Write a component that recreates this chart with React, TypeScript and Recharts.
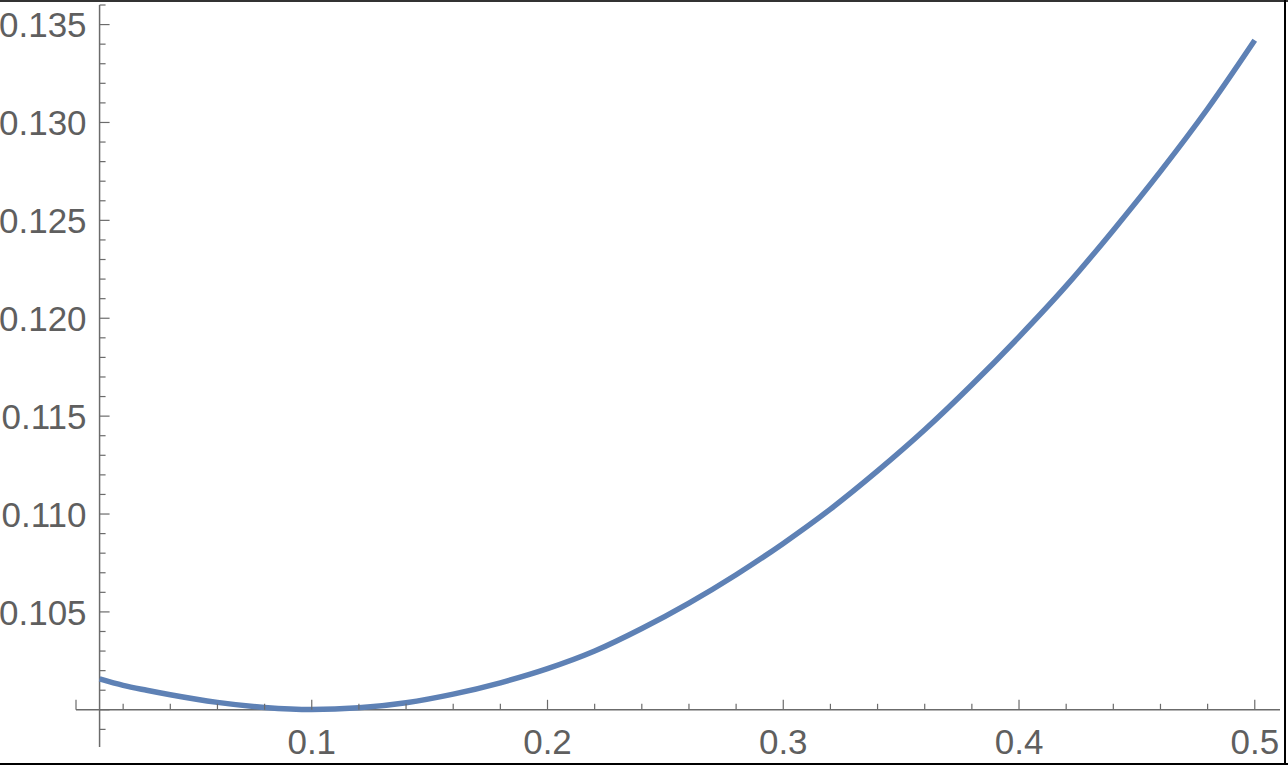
import React from "react";
import {
  LineChart,
  Line,
  XAxis,
  YAxis,
  ReferenceLine,
  ReferenceDot,
} from "recharts";

// values
const xValues = [
  0.01, 0.02, 0.03, 0.04, 0.06, 0.08, 0.1, 0.12, 0.14, 0.16, 0.18, 0.2, 0.22,
  0.24, 0.26, 0.28, 0.3, 0.32, 0.34, 0.36, 0.38, 0.4, 0.42, 0.44, 0.46, 0.48,
  0.5,
];
const yValues = [
  0.10158, 0.10125, 0.101, 0.10077, 0.10038, 0.10012, 0.10001, 0.1001,
  0.10036, 0.1008, 0.10138, 0.1021, 0.103, 0.10415, 0.10545, 0.1069, 0.1085,
  0.11025, 0.1122, 0.1143, 0.1166, 0.11905, 0.12165, 0.1245, 0.1275, 0.1307,
  0.1342,
];

// ticks
const xMajorTicks = [0, 0.1, 0.2, 0.3, 0.4, 0.5];
const xTickLabels = ["", "0.1", "0.2", "0.3", "0.4", "0.5"];
const xMinorTicks = [
  0.02, 0.04, 0.06, 0.08, 0.12, 0.14, 0.16, 0.18, 0.22, 0.24, 0.26, 0.28,
  0.32, 0.34, 0.36, 0.38, 0.42, 0.44, 0.46, 0.48,
];
const yMajorTicks = [0.1, 0.105, 0.11, 0.115, 0.12, 0.125, 0.13, 0.135];
const yTickLabels = ["", "0.105", "0.110", "0.115", "0.120", "0.125", "0.130", "0.135"];
const yMinorTicks = [
  0.099, 0.101, 0.102, 0.103, 0.104, 0.106, 0.107, 0.108, 0.109, 0.111, 0.112,
  0.113, 0.114, 0.116, 0.117, 0.118, 0.119, 0.121, 0.122, 0.123, 0.124, 0.126,
  0.127, 0.128, 0.129, 0.131, 0.132, 0.133, 0.134, 0.136,
];

const axisOriginX = 0.01;
const axisOriginY = 0.1;

const data = xValues.map((x, i) => ({ x, y: yValues[i] }));

const AXIS = "#6b6b6b";
const LABEL = "#5f5f5f";
const FONT = "'Liberation Sans', Arial, sans-serif";

const xTickShape = (len: number, label: string) => (props: any) => {
  const { cx, cy } = props;
  return (
    <g>
      <line x1={cx} x2={cx} y1={cy} y2={cy - len} stroke={AXIS} strokeWidth={1.2} />
      {label && (
        <text
          x={cx}
          y={cy + 44}
          textAnchor="middle"
          fontSize={35}
          fontFamily={FONT}
          fill={LABEL}
        >
          {label}
        </text>
      )}
    </g>
  );
};

const yTickShape = (len: number, label: string) => (props: any) => {
  const { cx, cy } = props;
  return (
    <g>
      <line x1={cx} x2={cx + len} y1={cy} y2={cy} stroke={AXIS} strokeWidth={1.2} />
      {label && (
        <text
          x={cx - 13}
          y={cy}
          dy="0.36em"
          textAnchor="end"
          fontSize={35}
          fontFamily={FONT}
          fill={LABEL}
        >
          {label}
        </text>
      )}
    </g>
  );
};

export default function App() {
  return (
    <div
      style={{
        position: "absolute",
        left: 0,
        top: 0,
        width: 1288,
        height: 765,
        background: "#fff",
        overflow: "hidden",
      }}
    >
      <LineChart
        width={1288}
        height={765}
        data={data}
        margin={{ top: 5, right: 8, bottom: 18, left: 76 }}
      >
        <XAxis type="number" dataKey="x" domain={[0, 0.5107]} hide allowDataOverflow />
        <YAxis type="number" domain={[0.0981, 0.136]} hide allowDataOverflow />

        {/* axes crossing at (0.01, 0.1) */}
        <ReferenceLine x={axisOriginX} stroke={AXIS} strokeWidth={1.5} />
        <ReferenceLine y={axisOriginY} stroke={AXIS} strokeWidth={1.5} />

        {xMajorTicks.map((t, i) => (
          <ReferenceDot key={"xM" + t} x={t} y={axisOriginY} shape={xTickShape(10, xTickLabels[i])} />
        ))}
        {xMinorTicks.map((t) => (
          <ReferenceDot key={"xm" + t} x={t} y={axisOriginY} shape={xTickShape(6, "")} />
        ))}
        {yMajorTicks.map((t, i) => (
          <ReferenceDot key={"yM" + t} x={axisOriginX} y={t} shape={yTickShape(10, yTickLabels[i])} />
        ))}
        {yMinorTicks.map((t) => (
          <ReferenceDot key={"ym" + t} x={axisOriginX} y={t} shape={yTickShape(6, "")} />
        ))}

        <Line
          type="monotone"
          dataKey="y"
          stroke="#5E81B5"
          strokeWidth={5.5}
          dot={false}
          isAnimationActive={false}
        />
      </LineChart>

      {/* image frame */}
      <div style={{ position: "absolute", left: 0, top: 0, width: 1288, height: 2, background: "#333" }} />
      <div style={{ position: "absolute", left: 1284, top: 0, width: 2, height: 765, background: "#000" }} />
      <div style={{ position: "absolute", left: 0, top: 763, width: 1288, height: 2, background: "#000" }} />
    </div>
  );
}
